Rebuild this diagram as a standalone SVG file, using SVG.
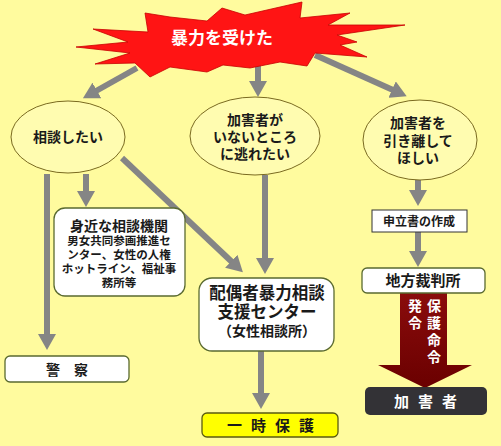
<svg xmlns="http://www.w3.org/2000/svg" width="501" height="446" viewBox="0 0 501 446">
<style>
text{font-family:"Noto Sans CJK JP","Noto Sans",sans-serif;font-weight:bold;text-anchor:middle}
.ell{fill:#fffcb0;stroke:#7a6a20;stroke-width:1}
.rbox{fill:#ffffff;stroke:#5a6a30;stroke-width:1.3}
.conn{stroke:#858585;stroke-width:6;fill:none}
.dk{fill:#1a1a1a}
.wt{fill:#ffffff}
</style>
<defs>
<marker id="ah" markerUnits="userSpaceOnUse" markerWidth="16" markerHeight="18" viewBox="0 0 16 18" refX="1" refY="9" orient="auto">
<path d="M0,0 L16,9 L0,18 z" fill="#858585"/>
</marker>
<linearGradient id="red" x1="0" y1="0" x2="0" y2="1">
<stop offset="0" stop-color="#8a0c0c"/>
<stop offset="1" stop-color="#6a0000"/>
</linearGradient>
</defs>
<rect width="501" height="446" fill="#fffb9e"/>

<g id="connectors">
<line class="conn" x1="137" y1="68" x2="96" y2="91" marker-end="url(#ah)"/>
<line class="conn" x1="258" y1="62" x2="258" y2="82" marker-end="url(#ah)"/>
<line class="conn" x1="315" y1="55" x2="393" y2="90" marker-end="url(#ah)"/>
<line class="conn" x1="47" y1="174" x2="47" y2="335" marker-end="url(#ah)"/>
<line class="conn" x1="86" y1="174" x2="86" y2="192" marker-end="url(#ah)"/>
<line class="conn" x1="122" y1="158" x2="232" y2="262" marker-end="url(#ah)"/>
<line class="conn" x1="265" y1="175" x2="265" y2="259" marker-end="url(#ah)"/>
<line class="conn" x1="261" y1="351" x2="261" y2="394" marker-end="url(#ah)"/>
<line class="conn" x1="418" y1="180" x2="418" y2="191" marker-end="url(#ah)"/>
<line class="conn" x1="418" y1="232" x2="418" y2="252" marker-end="url(#ah)"/>
<path id="order-arrow" d="M400,293 L447,293 L447,365 L472,365 L425,388 L378,365 L400,365 z" fill="url(#red)"/>
<g class="wt" font-size="14">
<text x="415" y="311">発</text>
<text x="415" y="328">令</text>
<text x="434" y="311">保</text>
<text x="434" y="328">護</text>
<text x="434" y="345">命</text>
<text x="434" y="362">令</text>
</g>
</g>

<g id="violence">
<path d="M76,47 L128,42 L93,29 L148,32 L145,13 L170,17 L207,21 L222,8 L245,15 L302,2 L300,18 L350,13 L328,25 L405,25 L337,35 L357,42 L340,45 L367,57 L315,53 L307,66 L280,62 L250,68 L223,65 L207,72 L170,67 L150,77 L135,63 L95,64 L130,53 z" fill="#ff1414" stroke="#c80000" stroke-width="0.8"/>
<text class="wt" x="222" y="44" font-size="17">暴力を受けた</text>
</g>

<g id="consult">
<ellipse class="ell" cx="68" cy="137" rx="57" ry="36"/>
<text class="dk" x="68" y="142" font-size="14">相談したい</text>
</g>

<g id="escape">
<ellipse class="ell" cx="255" cy="136" rx="65" ry="39"/>
<text class="dk" font-size="14"><tspan x="255" y="125">加害者が</tspan><tspan x="255" y="142">いないところ</tspan><tspan x="255" y="159">に逃れたい</tspan></text>
</g>

<g id="separate">
<ellipse class="ell" cx="420" cy="140" rx="57" ry="40"/>
<text class="dk" font-size="14"><tspan x="418" y="128">加害者を</tspan><tspan x="418" y="146">引き離して</tspan><tspan x="418" y="163">ほしい</tspan></text>
</g>

<g id="local">
<rect class="rbox" x="54" y="208" width="131" height="88" rx="11"/>
<text class="dk" x="119" y="231" font-size="14">身近な相談機関</text>
<text class="dk" font-size="11.5"><tspan x="119" y="245">男女共同参画推進セ</tspan><tspan x="119" y="259">ンター、女性の人権</tspan><tspan x="119" y="273">ホットライン、福祉事</tspan><tspan x="119" y="287">務所等</tspan></text>
</g>

<g id="center">
<rect class="rbox" x="199" y="278" width="135" height="73" rx="13"/>
<text class="dk" font-size="16.5"><tspan x="267" y="299">配偶者暴力相談</tspan><tspan x="267" y="318">支援センター</tspan></text>
<text class="dk" x="267" y="336" font-size="14">（女性相談所）</text>
</g>

<g id="police">
<rect class="rbox" x="5" y="356" width="124" height="26" rx="5"/>
<text class="dk" x="67" y="375" font-size="14">警　察</text>
</g>

<g id="shelter">
<rect x="202" y="413" width="136" height="24" rx="5" fill="#ffff00" stroke="#5a5a10" stroke-width="1.3"/>
<text class="dk" x="275" y="431" font-size="15" letter-spacing="9">一時保護</text>
</g>

<g id="petition">
<rect x="372" y="210" width="95" height="22" fill="#ffffff" stroke="#333333" stroke-width="1"/>
<text class="dk" x="419" y="226" font-size="12">申立書の作成</text>
</g>

<g id="court">
<rect class="rbox" x="362" y="268" width="123" height="25" rx="5"/>
<text class="dk" x="423" y="286" font-size="15">地方裁判所</text>
</g>

<g id="abuser">
<rect x="365" y="387" width="122" height="28" rx="5" fill="#333236"/>
<text class="wt" x="430" y="407" font-size="15" letter-spacing="9">加害者</text>
</g>
</svg>
